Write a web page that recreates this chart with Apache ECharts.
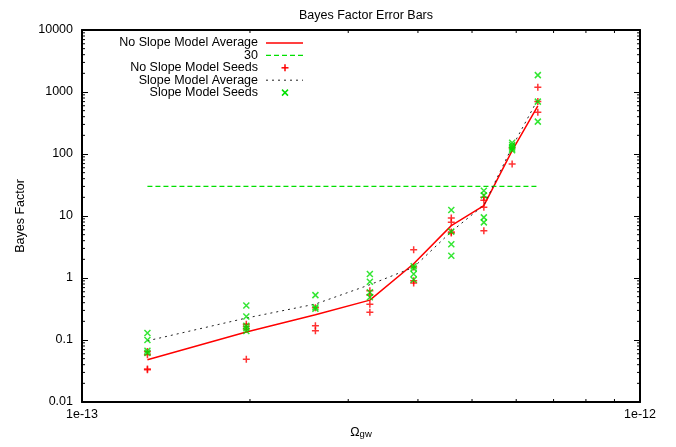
<!DOCTYPE html>
<html>
<head>
<meta charset="utf-8">
<script src="https://cdn.jsdelivr.net/npm/echarts@6/dist/echarts.min.js"></script>
<style>
  html, body { margin: 0; padding: 0; background: #fff; }
  #chart { width: 676px; height: 447px; }
</style>
</head>
<body>
<div id="chart"></div>
<script>
// Omega_gw values at which both models were run
const xValues = [1.31e-13, 1.97e-13, 2.62e-13, 3.28e-13, 3.93e-13, 4.59e-13, 5.25e-13, 5.90e-13, 6.56e-13];

// Averaged Bayes factors
const noSlopeAvg = [0.048, 0.135, 0.255, 0.44, 1.7, 7.0, 14.7, 113, 600];
const slopeAvg   = [0.097, 0.226, 0.38, 0.78, 1.49, 5.6, 15.0, 130, 760];

// Individual seeds, one list per Omega_gw value
const noSlopeSeeds = [
  [0.065, 0.058, 0.034, 0.033],
  [0.18, 0.165, 0.15, 0.049],
  [0.33, 0.17, 0.141],
  [0.62, 0.53, 0.377, 0.28],
  [2.86, 1.5, 0.9, 0.83],
  [9.3, 7.9, 5.5, 5.3],
  [20, 18, 13.8, 5.8],
  [125, 69],
  [1190, 700, 470]
];
const slopeSeeds = [
  [0.13, 0.10, 0.067, 0.062],
  [0.36, 0.24, 0.17, 0.155, 0.14],
  [0.53, 0.337, 0.32],
  [1.16, 0.87, 0.59, 0.49],
  [1.55, 1.43, 1.16, 0.94],
  [12.5, 5.6, 3.5, 2.29],
  [25.5, 21.5, 9.5, 7.9],
  [152, 140, 130, 122, 115],
  [1870, 700, 333]
];

// Detection threshold
const threshold = 30;

// Axis labels
const xTickLabels = ['1e-13', '1e-12'];
const yTickLabels = ['0.01', '0.1', '1', '10', '100', '1000', '10000'];
const minorMultipliers = [2, 3, 4, 5, 6, 7, 8, 9];
const xDecades = [1e-13];
const yDecades = [0.01, 0.1, 1, 10, 100, 1000];

const FONT = '"Liberation Sans", Arial, Helvetica, sans-serif';
const RED = '#ff0000';
const GREEN = '#00e000';
const FS = 12.5;

const seedPoints = (seeds) => seeds.flatMap((col, i) => col.map(v => [xValues[i], v]));
const avgPoints = (avg) => avg.map((v, i) => [xValues[i], v]);

const plusPath = 'path://M5,0L5,10M0,5L10,5';
const crossPath = 'path://M0,0L10,10M10,0L0,10';

const xMinor = xDecades.flatMap(d => minorMultipliers.map(m => m * d));
const yMinor = yDecades.flatMap(d => minorMultipliers.map(m => m * d));

function tickLine(x1, y1, x2, y2) {
  return { type: 'line', shape: { x1, y1, x2, y2 }, style: { stroke: '#000', lineWidth: 1 } };
}

// Legend: right-aligned text followed by the sample
const legendRows = [
  { name: 'No Slope Model Average', kind: 'line', color: RED, dash: null, width: 1.5 },
  { name: '30', kind: 'line', color: GREEN, dash: [5, 3], width: 1.2 },
  { name: 'No Slope Model Seeds', kind: 'plus', color: RED },
  { name: 'Slope Model Average', kind: 'line', color: '#222', dash: [2, 4], width: 1 },
  { name: 'Slope Model Seeds', kind: 'cross', color: GREEN }
];
const legendTop = 43, legendStep = 12.4, legendTextRight = 258, sampleL = 266, sampleR = 303, sampleC = 285;
const legendGraphics = [];
legendRows.forEach((r, i) => {
  const y = legendTop + i * legendStep;
  legendGraphics.push({
    type: 'text', x: legendTextRight, y: y,
    style: { text: r.name, font: FS + 'px ' + FONT, fill: '#000', align: 'right', verticalAlign: 'middle' }
  });
  if (r.kind === 'line') {
    legendGraphics.push({
      type: 'line', shape: { x1: sampleL, y1: y, x2: sampleR, y2: y },
      style: { stroke: r.color, lineWidth: r.width, lineDash: r.dash }
    });
  } else if (r.kind === 'plus') {
    legendGraphics.push({ type: 'line', shape: { x1: sampleC - 3.5, y1: y, x2: sampleC + 3.5, y2: y }, style: { stroke: r.color, lineWidth: 1.5 } });
    legendGraphics.push({ type: 'line', shape: { x1: sampleC, y1: y - 3.5, x2: sampleC, y2: y + 3.5 }, style: { stroke: r.color, lineWidth: 1.5 } });
  } else {
    legendGraphics.push({ type: 'line', shape: { x1: sampleC - 3, y1: y - 3, x2: sampleC + 3, y2: y + 3 }, style: { stroke: r.color, lineWidth: 1.5 } });
    legendGraphics.push({ type: 'line', shape: { x1: sampleC + 3, y1: y - 3, x2: sampleC - 3, y2: y + 3 }, style: { stroke: r.color, lineWidth: 1.5 } });
  }
});

const axisLineStyle = { show: true, lineStyle: { color: '#000', width: 2 } };
const majorTick = { show: true, inside: true, length: 6, lineStyle: { color: '#000', width: 1 } };

const chart = echarts.init(document.getElementById('chart'), null, { renderer: 'canvas' });
chart.setOption({
  animation: false,
  backgroundColor: '#fff',
  textStyle: { fontFamily: FONT },
  title: {
    text: 'Bayes Factor Error Bars',
    left: 361, top: 4, textAlign: 'center',
    textStyle: { fontFamily: FONT, fontSize: FS, fontWeight: 'normal', color: '#000' }
  },
  grid: { left: 82, right: 36, top: 30, bottom: 45, containLabel: false },
  xAxis: [
    {
      type: 'log', logBase: 10, min: 1e-13, max: 1e-12, position: 'bottom',
      name: '{o|Ω}{s|gw}', nameLocation: 'middle', nameGap: 19,
      nameTextStyle: {
        rich: {
          o: { fontFamily: FONT, fontSize: FS, color: '#000', verticalAlign: 'bottom' },
          s: { fontFamily: FONT, fontSize: 9.5, color: '#000', padding: [8, 0, 0, 0] }
        }
      },
      axisLine: axisLineStyle, axisTick: majorTick, splitLine: { show: false },
      axisLabel: {
        fontFamily: FONT, fontSize: FS, color: '#000', margin: 6,
        formatter: v => xTickLabels[Math.round(Math.log10(v)) + 13] || ''
      }
    },
    {
      type: 'log', logBase: 10, min: 1e-13, max: 1e-12, position: 'top',
      axisLine: axisLineStyle, axisTick: majorTick, axisLabel: { show: false }, splitLine: { show: false }
    }
  ],
  yAxis: [
    {
      type: 'log', logBase: 10, min: 0.01, max: 10000, position: 'left',
      name: 'Bayes Factor', nameLocation: 'middle', nameGap: 55, nameRotate: 90,
      nameTextStyle: { fontFamily: FONT, fontSize: FS, color: '#000' },
      axisLine: axisLineStyle, axisTick: majorTick, splitLine: { show: false },
      axisLabel: {
        fontFamily: FONT, fontSize: FS, color: '#000', margin: 9,
        formatter: v => yTickLabels[Math.round(Math.log10(v)) + 2] || ''
      }
    },
    {
      type: 'log', logBase: 10, min: 0.01, max: 10000, position: 'right',
      axisLine: axisLineStyle, axisTick: majorTick, axisLabel: { show: false }, splitLine: { show: false }
    }
  ],
  graphic: legendGraphics,
  series: [
    {
      name: 'xMinorTicks', type: 'custom', silent: true, clip: false, z: 1,
      data: xMinor.map(v => [v, 1]),
      renderItem: (params, api) => {
        const cs = params.coordSys;
        const x = api.coord([api.value(0), 1])[0];
        return { type: 'group', children: [
          tickLine(x, cs.y + cs.height, x, cs.y + cs.height - 3),
          tickLine(x, cs.y, x, cs.y + 3)
        ] };
      }
    },
    {
      name: 'yMinorTicks', type: 'custom', silent: true, clip: false, z: 1,
      data: yMinor.map(v => [2e-13, v]),
      renderItem: (params, api) => {
        const cs = params.coordSys;
        const y = api.coord([2e-13, api.value(1)])[1];
        return { type: 'group', children: [
          tickLine(cs.x, y, cs.x + 3, y),
          tickLine(cs.x + cs.width, y, cs.x + cs.width - 3, y)
        ] };
      }
    },
    {
      name: 'No Slope Model Average', type: 'line', data: avgPoints(noSlopeAvg),
      showSymbol: false, symbol: 'none', z: 3,
      lineStyle: { color: RED, width: 1.5 }
    },
    {
      name: '30', type: 'line', data: [[xValues[0], threshold], [xValues[xValues.length - 1], threshold]],
      showSymbol: false, symbol: 'none', z: 3,
      lineStyle: { color: GREEN, width: 1.2, type: [5, 3] }
    },
    {
      name: 'No Slope Model Seeds', type: 'scatter', data: seedPoints(noSlopeSeeds),
      symbol: plusPath, symbolSize: 7, z: 4,
      itemStyle: { color: 'rgba(0,0,0,0)', borderColor: RED, borderWidth: 1.5 }
    },
    {
      name: 'Slope Model Average', type: 'line', data: avgPoints(slopeAvg),
      showSymbol: false, symbol: 'none', z: 3,
      lineStyle: { color: '#222', width: 1, type: [2, 4] }
    },
    {
      name: 'Slope Model Seeds', type: 'scatter', data: seedPoints(slopeSeeds),
      symbol: crossPath, symbolSize: 6, z: 5,
      itemStyle: { color: 'rgba(0,0,0,0)', borderColor: GREEN, borderWidth: 1.5 }
    }
  ]
});
</script>
</body>
</html>
